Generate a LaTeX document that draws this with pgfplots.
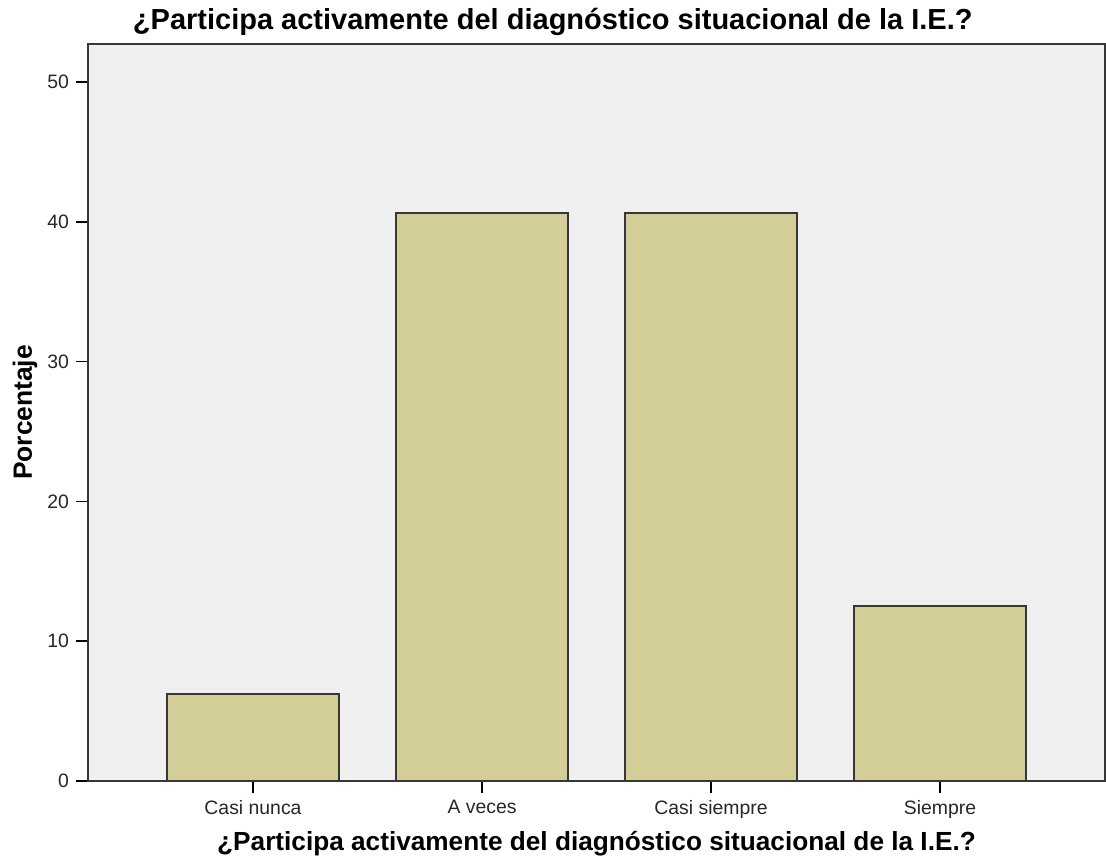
\documentclass[border=0pt]{standalone}
\usepackage{fontspec}
\setmainfont{Liberation Sans}
\usepackage{pgfplots}
\pgfplotsset{compat=1.18}
\definecolor{barfill}{RGB}{211,206,151}
\definecolor{bg}{RGB}{240,240,240}
\definecolor{axisgray}{RGB}{55,55,55}
\begin{document}
\begin{tikzpicture}
\useasboundingbox (-44pt,-42pt) rectangle (509pt,390.5pt);
\begin{axis}[
  at={(0,0)}, anchor=south west,
  scale only axis, width=508.5pt, height=368.5pt,
  xmin=-0.7205, xmax=3.7205, ymin=0, ymax=52.72,
  axis background/.style={fill=bg},
  axis line style={draw=axisgray, line width=1pt},
  ybar, bar width=86pt,
  xtick={0,1,2,3},
  xticklabels={Casi nunca, A veces, Casi siempre, Siempre},
  ytick={0,10,20,30,40,50},
  tick align=outside, major tick length=6pt,
  tick style={draw=black, line width=0.8pt},
  xtick pos=bottom, ytick pos=left,
  ticklabel style={font=\fontsize{9.7}{11}\selectfont, text=black!85},
  /pgf/number format/assume math mode=true,
  every axis title shift=0pt,
  title={\fontsize{14.5}{17}\selectfont\bfseries ¿Participa activamente del diagnóstico situacional de la I.E.?},
  title style={at={(axis description cs:0.457,1.0299)}, anchor=center},
  xlabel={\fontsize{13.1}{15}\selectfont\bfseries ¿Participa activamente del diagnóstico situacional de la I.E.?},
  xlabel style={at={(axis description cs:0.5,-0.0855)}, anchor=center},
  ylabel={\fontsize{13.2}{15}\selectfont\bfseries Porcentaje},
  ylabel style={at={(axis description cs:-0.0619,0.5)}, anchor=center},
]
\addplot[fill=barfill, draw=axisgray, line width=1pt] coordinates {(0,6.25)(1,40.625)(2,40.625)(3,12.5)};
\end{axis}
\end{tikzpicture}
\end{document}
